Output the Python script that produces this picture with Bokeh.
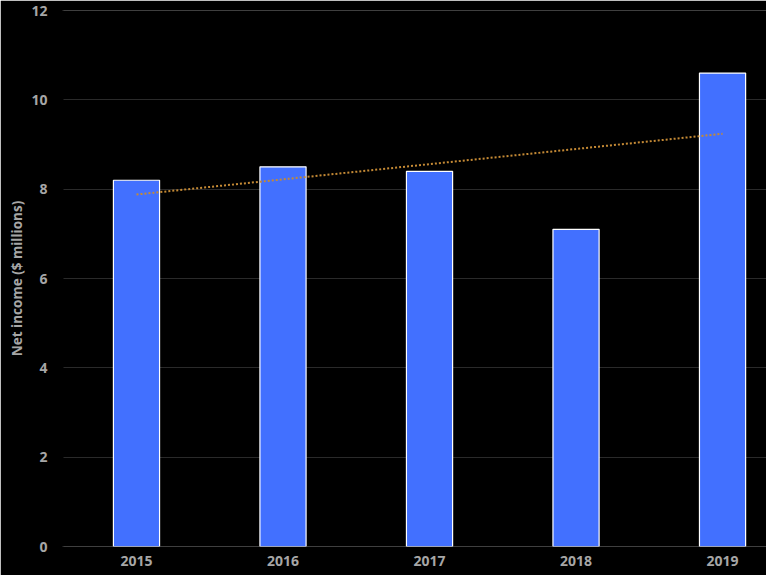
import numpy as np
from bokeh.plotting import figure
from bokeh.models import Range1d, ColumnDataSource, FixedTicker
from bokeh.embed import file_html
from bokeh.resources import INLINE

years = ["2015", "2016", "2017", "2018", "2019"]
net_income = [8.2, 8.5, 8.4, 7.1, 10.6]
y_ticks = [0, 2, 4, 6, 8, 10, 12]

xs = list(range(len(years)))
src = ColumnDataSource(dict(x=xs, top=net_income))

# linear trendline (least squares) through the bar values
slope, intercept = np.polyfit(np.arange(1, len(years) + 1), net_income, 1)
trend_x = [xs[0], xs[-1]]
trend_y = [slope * 1 + intercept, slope * len(years) + intercept]

p = figure(width=766, height=575, output_backend="svg", toolbar_location=None,
           x_range=Range1d(-0.505, 4.30), y_range=Range1d(0, 12))
p.background_fill_color = "#000000"
p.border_fill_color = "#000000"
p.outline_line_color = None
p.min_border_top = 10
p.min_border_bottom = 29
p.min_border_left = 62
p.min_border_right = 0

p.vbar(x="x", top="top", width=0.315, bottom=0, source=src,
       fill_color="#4270FF", line_color="#FFFFFF", line_width=1.2)
p.line(trend_x, trend_y, line_color="#C58A35", line_width=2, line_dash="2 2")

p.xgrid.grid_line_color = None
p.ygrid.grid_line_color = "#2a2a2a"
p.ygrid.grid_line_width = 1
p.yaxis.ticker = FixedTicker(ticks=y_ticks)
p.xaxis.ticker = FixedTicker(ticks=xs)
p.xaxis.major_label_overrides = {i: y for i, y in enumerate(years)}

for ax in (p.xaxis[0], p.yaxis[0]):
    ax.major_tick_line_color = None
    ax.minor_tick_line_color = None
    ax.major_tick_out = 0
    ax.major_tick_in = 0
    ax.minor_tick_out = 0
    ax.minor_tick_in = 0
    ax.major_label_text_color = "#A6A6A6"
    ax.major_label_text_font = "Open Sans"
    ax.major_label_text_font_style = "bold"
    ax.major_label_text_font_size = "14px"
# black axis line hides the seam at the frame's left edge
p.yaxis.axis_line_color = "#000000"
p.yaxis.axis_line_width = 2
p.xaxis.axis_line_color = None

p.yaxis.axis_label = "Net income ($ millions)"
p.yaxis.axis_label_text_color = "#A6A6A6"
p.yaxis.axis_label_text_font = "Open Sans"
p.yaxis.axis_label_text_font_style = "bold"
p.yaxis.axis_label_text_font_size = "13.5px"
p.yaxis.axis_label_standoff = 2
p.yaxis.major_label_standoff = 15
p.xaxis.major_label_standoff = 9

open("out.html", "w").write(file_html(p, INLINE))
